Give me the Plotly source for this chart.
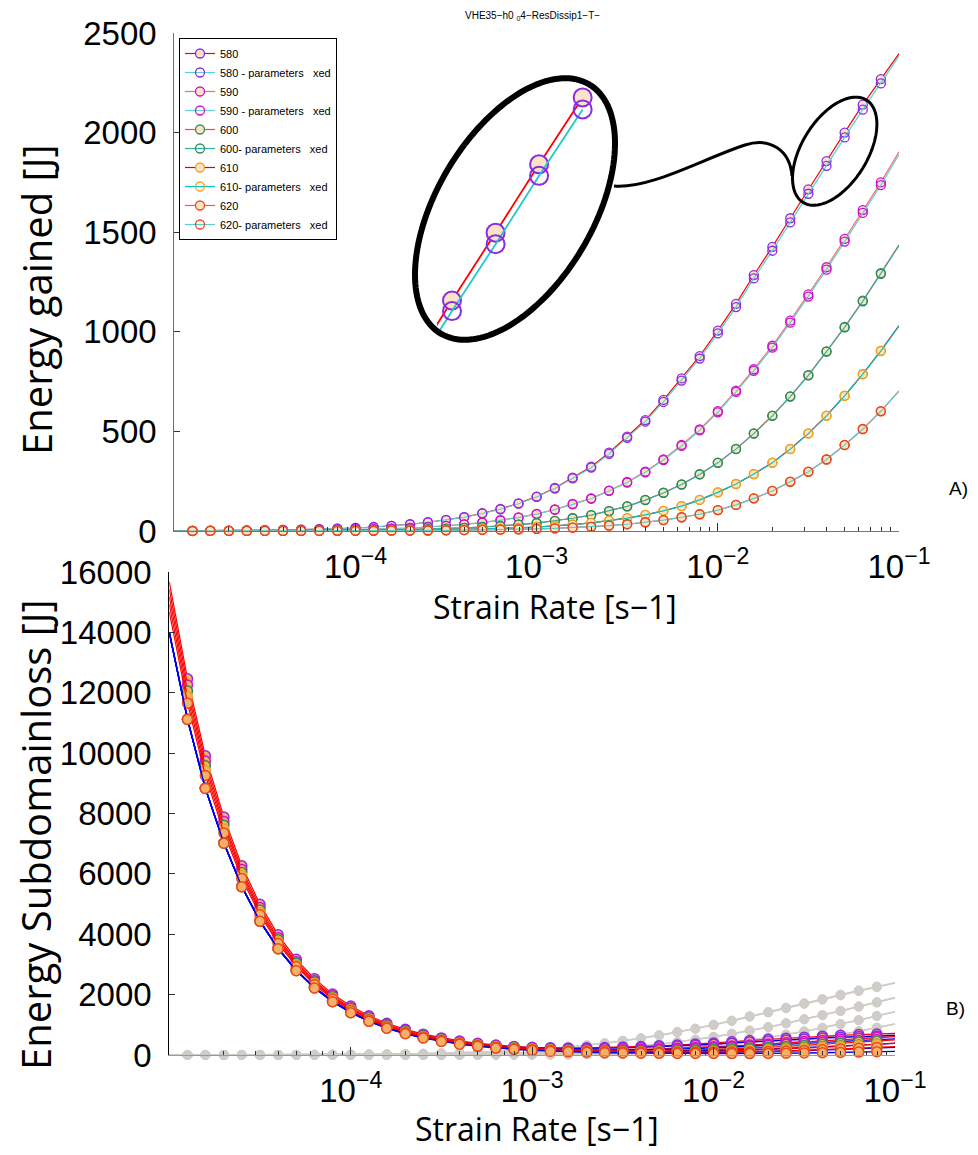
import math
import plotly.graph_objects as go

W, H = 978, 1155

# ---------------- data ----------------
rate = [1.00e-5, 1.26e-5, 1.58e-5, 2.00e-5, 2.51e-5, 3.16e-5, 3.98e-5, 5.01e-5, 6.31e-5, 7.94e-5,
        1.00e-4, 1.26e-4, 1.58e-4, 2.00e-4, 2.51e-4, 3.16e-4, 3.98e-4, 5.01e-4, 6.31e-4, 7.94e-4,
        1.00e-3, 1.26e-3, 1.58e-3, 2.00e-3, 2.51e-3, 3.16e-3, 3.98e-3, 5.01e-3, 6.31e-3, 7.94e-3,
        1.00e-2, 1.26e-2, 1.58e-2, 2.00e-2, 2.51e-2, 3.16e-2, 3.98e-2, 5.01e-2, 6.31e-2, 7.94e-2,
        1.00e-1]

temps = ["580", "590", "600", "610", "620"]
fixed_names = ["580 - parameters\u00a0\u00a0\u00a0xed", "590 - parameters\u00a0\u00a0\u00a0xed",
               "600- parameters\u00a0\u00a0\u00a0xed", "610- parameters\u00a0\u00a0\u00a0xed",
               "620- parameters\u00a0\u00a0\u00a0xed"]

# Energy gained [J]
E580 = [0.8, 1, 1.5, 2, 3, 4, 5, 7, 9, 12, 15, 20, 26, 34, 44, 56, 70, 89, 111, 139, 173, 216, 268, 323,
        393, 474, 557, 658, 766, 878, 1006, 1140, 1285, 1426, 1570, 1715, 1857, 2000, 2140, 2268, 2396]
E580f = [0.8, 1, 1.5, 2, 3, 4, 5, 7, 9, 12, 15, 20, 26, 33, 43, 55, 69, 88, 109, 137, 171, 213, 264, 318,
         387, 467, 549, 648, 755, 866, 992, 1124, 1268, 1407, 1549, 1693, 1833, 1976, 2115, 2247, 2384]
E590 = [0.5, 0.6, 0.8, 1.1, 1.4, 1.8, 2.4, 3, 4, 5, 7, 9, 12, 15, 20, 26, 33, 42, 54, 68, 86, 108, 136, 164,
        203, 246, 298, 360, 432, 510, 602, 705, 812, 930, 1056, 1188, 1324, 1466, 1611, 1750, 1904]
E590f = [0.5, 0.6, 0.8, 1.1, 1.4, 1.8, 2.4, 3, 4, 5, 7, 9, 12, 15, 20, 26, 33, 42, 53, 67, 85, 107, 134, 162,
         201, 243, 295, 356, 427, 505, 596, 698, 804, 921, 1046, 1177, 1312, 1453, 1597, 1736, 1890]
E600 = [0.3, 0.4, 0.5, 0.6, 0.8, 1.0, 1.3, 1.6, 2.1, 2.7, 3.5, 4.5, 5.8, 7.4, 9.5, 12, 15.5, 20, 25, 32, 40,
        51, 64, 80, 100, 124, 156, 192, 234, 285, 343, 412, 490, 579, 676, 783, 902, 1024, 1156, 1294, 1436]
E600f = [0.3, 0.4, 0.5, 0.6, 0.8, 1.0, 1.3, 1.6, 2.1, 2.7, 3.5, 4.5, 5.8, 7.4, 9.5, 12, 15.5, 20, 25, 32, 40,
         51, 64, 80, 100, 124, 155, 191, 233, 284, 342, 411, 489, 578, 675, 781, 900, 1022, 1153, 1291, 1433]
E610 = [0.15, 0.2, 0.25, 0.3, 0.4, 0.5, 0.6, 0.8, 1.0, 1.3, 1.6, 2.1, 2.7, 3.5, 4.5, 5.8, 7.4, 9.5, 12, 15.5,
        20, 25, 32, 41, 52, 65, 81, 101, 125, 156, 194, 236, 286, 343, 412, 490, 579, 679, 788, 905, 1031]
E610f = [0.15, 0.2, 0.25, 0.3, 0.4, 0.5, 0.6, 0.8, 1.0, 1.3, 1.6, 2.1, 2.7, 3.5, 4.5, 5.8, 7.4, 9.5, 12, 15.5,
         20, 25, 32, 41, 52, 65, 81, 101, 125, 156, 194, 236, 286, 342, 411, 489, 578, 678, 787, 903, 1029]
E620 = [0.1, 0.12, 0.15, 0.19, 0.24, 0.3, 0.4, 0.5, 0.6, 0.8, 1.0, 1.2, 1.6, 2.0, 2.5, 3.2, 4.1, 5.2, 6.6,
        8.4, 10.7, 13.5, 17, 21, 27, 34, 44, 55, 69, 84, 105, 131, 164, 201, 248, 298, 360, 432, 512, 602, 703]
E620f = [0.1, 0.12, 0.15, 0.19, 0.24, 0.3, 0.4, 0.5, 0.6, 0.8, 1.0, 1.2, 1.6, 2.0, 2.5, 3.2, 4.1, 5.2, 6.6,
         8.4, 10.7, 13.5, 17, 21, 27, 34, 44, 55, 69, 84, 105, 131, 164, 201, 247, 297, 359, 431, 511, 601, 702]

# Energy Subdomainloss [J]
L580 = [15670, 12460, 9910, 7880, 6270, 4990, 3980, 3170, 2530, 2020, 1620, 1300, 1050, 850, 690, 565, 465,
        390, 330, 285, 255, 240, 235, 238, 248, 262, 280, 303, 330, 362, 398, 437, 478, 518, 556, 592, 624,
        652, 676, 697, 715]
L590 = [15426, 12255, 9736, 7736, 6148, 4887, 3886, 3093, 2463, 1964, 1568, 1256, 1009, 813, 661, 540, 445,
        370, 309, 264, 230, 205, 184, 170, 169, 177, 187, 205, 224, 246, 272, 299, 331, 367, 405, 444, 483,
        519, 554, 585, 612]
L600 = [15176, 12056, 9578, 7610, 6046, 4803, 3817, 3036, 2416, 1923, 1533, 1223, 979, 786, 634, 515, 421,
        349, 290, 247, 212, 184, 163, 150, 139, 133, 127, 135, 148, 164, 184, 205, 228, 256, 284, 316, 352,
        389, 427, 466, 502]
L610 = [14924, 11856, 9418, 7483, 5946, 4723, 3753, 2983, 2371, 1885, 1501, 1196, 955, 763, 612, 494, 401,
        328, 271, 229, 195, 170, 150, 136, 123, 116, 111, 110, 109, 109, 121, 136, 156, 178, 201, 226, 254,
        284, 317, 353, 392]
L620 = [14673, 11656, 9260, 7357, 5846, 4644, 3690, 2933, 2331, 1853, 1473, 1171, 933, 744, 595, 477, 385,
        311, 254, 210, 177, 152, 134, 120, 109, 103, 98, 93, 91, 93, 95, 97, 99, 114, 131, 151, 174, 198, 223,
        252, 282]
F580 = [14000, 11124, 8840, 7027, 5586, 4443, 3537, 2817, 2248, 1796, 1439, 1157, 933, 756, 616, 505, 419,
        352, 299, 260, 228, 216, 210, 214, 222, 236, 251, 273, 297, 326, 358, 393, 429, 466, 499, 532, 562,
        587, 609, 628, 644]
F590 = [13999, 11121, 8835, 7021, 5579, 4435, 3527, 2806, 2234, 1782, 1422, 1139, 914, 737, 598, 488, 402,
        334, 278, 237, 206, 183, 164, 151, 149, 157, 165, 180, 196, 215, 237, 261, 289, 320, 353, 388, 422,
        453, 483, 510, 533]
F600 = [13998, 11120, 8834, 7019, 5576, 4430, 3521, 2799, 2226, 1772, 1411, 1126, 900, 721, 580, 470, 383,
        315, 260, 219, 186, 160, 140, 127, 116, 110, 104, 108, 117, 129, 144, 159, 177, 197, 219, 244, 271,
        300, 329, 359, 385]
F610 = [13997, 11119, 8833, 7018, 5575, 4429, 3519, 2796, 2222, 1767, 1405, 1119, 891, 711, 569, 457, 369,
        300, 243, 202, 170, 145, 124, 110, 96, 89, 82, 79, 77, 76, 82, 91, 103, 116, 130, 147, 164, 183, 204,
        227, 251]
F620 = [13996, 11118, 8832, 7017, 5574, 4428, 3518, 2795, 2221, 1765, 1402, 1115, 886, 705, 562, 449, 359,
        288, 230, 187, 153, 127, 105, 91, 77, 69, 61, 55, 51, 49, 48, 47, 47, 52, 58, 67, 76, 86, 96, 108, 120]

gained = [E580, E590, E600, E610, E620]
gained_fixed = [E580f, E590f, E600f, E610f, E620f]
loss = [L580, L590, L600, L610, L620]
loss_fixed = [F580, F590, F600, F610, F620]

x_tickvals = [1e-4, 1e-3, 1e-2, 1e-1]
x_ticktext = ["10<sup>\u22124</sup>", "10<sup>\u22123</sup>", "10<sup>\u22122</sup>", "10<sup>\u22121</sup>"]
y1_ticks = [0, 500, 1000, 1500, 2000, 2500]
y2_ticks = [0, 2000, 4000, 6000, 8000, 10000, 12000, 14000, 16000]

# ---------------- styles ----------------
edge = ["#8b2be2", "#cc11cc", "#2e8b57", "#f0a020", "#e8481c"]
red_lines = ["#ff0000", "#ff6a6a", "#ff4545", "#e00000", "#ff5050"]
cyan_lines = ["#55d4d4", "#5fd0d0", "#35b0a4", "#00c4c4", "#5ccccc"]
beige = "#fbe4c6"
orange_fill = "#f6b168"
gray = "#d0ccc7"
TICKFONT = dict(family="Liberation Sans, Arial, sans-serif", size=33, color="black")
n = len(rate)
mop = [0] + [1] * (n - 1)   # no marker at the first (edge) sample

fig = go.Figure()

# ---- top panel: energy gained ----
for i, T in enumerate(temps):
    fig.add_trace(go.Scatter(
        x=rate, y=gained[i], mode="lines+markers", name=T, xaxis="x", yaxis="y",
        line=dict(color=red_lines[i], width=1.2),
        marker=dict(symbol="circle", size=9, color=beige, opacity=mop,
                    line=dict(color=edge[i], width=1.3)),
        cliponaxis=False))
    fig.add_trace(go.Scatter(
        x=rate, y=gained_fixed[i], mode="lines+markers", name=fixed_names[i], xaxis="x", yaxis="y",
        line=dict(color=cyan_lines[i], width=1.2),
        marker=dict(symbol="circle-open", size=9, color=edge[i], opacity=mop,
                    line=dict(color=edge[i], width=1.3)),
        cliponaxis=False))

# ---- magnified inset of the 580 curves ----
sl = slice(34, 39)
fig.add_trace(go.Scatter(
    x=rate[sl], y=E580[sl], mode="lines+markers", xaxis="x3", yaxis="y3", showlegend=False,
    line=dict(color="#ff0000", width=1.8),
    marker=dict(symbol="circle", size=18, color=beige, line=dict(color=edge[0], width=2))))
fig.add_trace(go.Scatter(
    x=rate[sl], y=E580f[sl], mode="lines+markers", xaxis="x3", yaxis="y3", showlegend=False,
    line=dict(color="#22c8c8", width=1.8),
    marker=dict(symbol="circle-open", size=18, color=edge[0], line=dict(color=edge[0], width=2))))

# ---- bottom panel: energy subdomain loss ----
for i in range(5):
    for series in (gained[i], gained_fixed[i]):
        fig.add_trace(go.Scatter(
            x=rate, y=series, mode="lines+markers", xaxis="x2", yaxis="y2", showlegend=False,
            line=dict(color="#cfcbc6", width=1.5),
            marker=dict(symbol="circle", size=9, color=gray, opacity=mop, line=dict(color=gray, width=1)),
            cliponaxis=False))
for i in range(5):
    fig.add_trace(go.Scatter(
        x=rate, y=loss[i], mode="lines+markers", xaxis="x2", yaxis="y2", showlegend=False,
        line=dict(color="#ff0000", width=1.2),
        marker=dict(symbol="circle", size=10, color=orange_fill, opacity=mop,
                    line=dict(color=edge[i], width=1.5)),
        cliponaxis=False))
    fig.add_trace(go.Scatter(
        x=rate, y=loss_fixed[i], mode="lines+markers", xaxis="x2", yaxis="y2", showlegend=False,
        line=dict(color="#0000ee", width=1.4),
        marker=dict(symbol="circle", size=10, color=orange_fill, opacity=mop,
                    line=dict(color=edge[i], width=1.5)),
        cliponaxis=False))

# ---------------- layout ----------------
def px(x):
    return x / W


def py(y):
    return 1 - y / H


minor_vals = [k * 10.0 ** d for d in range(-5, -1) for k in range(2, 10)]

xcommon = dict(type="log", range=[-5, -1], showgrid=False, zeroline=False, showline=True,
               ticks="inside", ticklen=8, tickwidth=1, tickcolor="#333",
               tickmode="array", tickvals=x_tickvals, ticktext=x_ticktext, tickfont=TICKFONT,
               ticklabelstandoff=6, automargin=False,
               minor=dict(ticks="inside", ticklen=4, tickcolor="#333", tickmode="array",
                          tickvals=minor_vals, showgrid=False))
ycommon = dict(showgrid=False, zeroline=False, showline=True, ticks="inside", ticklen=6,
               tickcolor="#333", tickfont=TICKFONT, tickmode="array", ticklabelstandoff=10,
               tickformat="d", automargin=False)

fig.update_layout(
    width=W, height=H, margin=dict(l=0, r=0, t=0, b=0, pad=0, autoexpand=False),
    paper_bgcolor="white", plot_bgcolor="rgba(0,0,0,0)",
    showlegend=True,
    legend=dict(x=px(179), y=py(38), xanchor="left", yanchor="top",
                bgcolor="white", bordercolor="black", borderwidth=1,
                font=dict(family="Liberation Sans, Arial, sans-serif", size=11, color="black"),
                tracegroupgap=0),
    xaxis=dict(domain=[px(174.3), px(899)], anchor="y", linecolor="#6a7a7a", linewidth=1.2, **xcommon),
    yaxis=dict(domain=[py(531), py(33)], anchor="x", range=[0, 2500], tickvals=y1_ticks,
               linecolor="#6e6e6e", linewidth=1.2, **ycommon),
    xaxis2=dict(domain=[px(169.3), px(895)], anchor="y2", linecolor="#9a9a9a", linewidth=1.2, **xcommon),
    yaxis2=dict(domain=[py(1055), py(572)], anchor="x2", range=[0, 16000], tickvals=y2_ticks,
                linecolor="black", linewidth=1.2, **ycommon),
    xaxis3=dict(domain=[px(437), px(600)], anchor="y3", type="log", range=[-1.5348, -1.1601],
                visible=False, showgrid=False, zeroline=False),
    yaxis3=dict(domain=[py(334), py(80)], anchor="x3", range=[1645, 2176.5],
                visible=False, showgrid=False, zeroline=False),
)


# ---- ellipses and connecting curve (decoration) ----
def ellipse_path(cx, cy, a, b, theta_deg, npts=144):
    th = math.radians(theta_deg)
    pts = []
    for k in range(npts + 1):
        phi = 2 * math.pi * k / npts
        X = cx + a * math.cos(phi) * math.cos(th) - b * math.sin(phi) * math.sin(th)
        Y = cy - (a * math.cos(phi) * math.sin(th) + b * math.sin(phi) * math.cos(th))
        pts.append((px(X), py(Y)))
    return "M" + " L".join(f"{x:.5f},{y:.5f}" for x, y in pts) + " Z"


def bezier_path(p0, segs):
    s = f"M{px(p0[0]):.5f},{py(p0[1]):.5f}"
    for c1, c2, e in segs:
        s += (f" C{px(c1[0]):.5f},{py(c1[1]):.5f} {px(c2[0]):.5f},{py(c2[1]):.5f}"
              f" {px(e[0]):.5f},{py(e[1]):.5f}")
    return s


shapes = [
    dict(type="path", xref="paper", yref="paper", path=ellipse_path(515, 209, 145, 78, 59.2),
         line=dict(color="black", width=6), layer="above"),
    dict(type="path", xref="paper", yref="paper", path=ellipse_path(834.7, 151.2, 60.2, 32.8, 58.3),
         line=dict(color="black", width=3), layer="above"),
    dict(type="path", xref="paper", yref="paper",
         path=bezier_path((614, 186), [((650, 189), (700, 160), (745, 145)),
                                       ((770, 137), (790, 150), (792, 176))]),
         line=dict(color="black", width=3), layer="above"),
]
fig.update_layout(shapes=shapes)

TITLEFONT = dict(family="Open Sans, sans-serif", size=32, color="black")
annotations = [
    dict(text="VHE35\u2212h0 <sub>0</sub>4\u2212ResDissip1\u2212T\u2212", x=px(532), y=py(16),
         font=dict(family="Liberation Sans, Arial, sans-serif", size=10, color="black")),
    dict(text="A)", x=px(958), y=py(488), font=dict(family="Liberation Sans, Arial", size=19, color="black")),
    dict(text="B)", x=px(955), y=py(1008), font=dict(family="Liberation Sans, Arial", size=19, color="black")),
    dict(text="Energy gained [J]", x=px(36), y=py(300), textangle=-90,
         font=dict(family="Open Sans, sans-serif", size=40, color="black")),
    dict(text="Energy Subdomainloss [J]", x=px(36), y=py(835), textangle=-90,
         font=dict(family="Open Sans, sans-serif", size=40, color="black")),
    dict(text="Strain Rate [s\u22121]", x=px(555), y=py(606), font=TITLEFONT),
    dict(text="Strain Rate [s\u22121]", x=px(537), y=py(1128), font=TITLEFONT),
]
for a in annotations:
    a.update(xref="paper", yref="paper", showarrow=False, xanchor="center", yanchor="middle")
fig.update_layout(annotations=annotations)

fig.write_html("out.html")
